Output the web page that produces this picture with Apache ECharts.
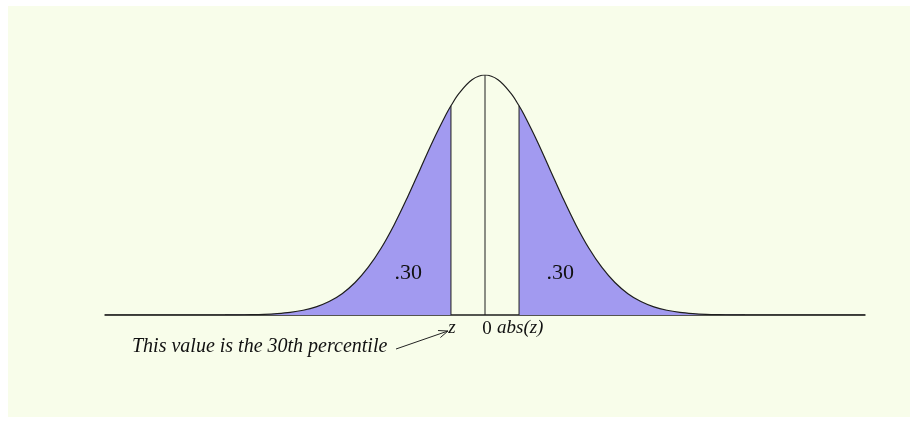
<!DOCTYPE html>
<html>
<head>
<meta charset="utf-8">
<script src="https://cdn.jsdelivr.net/npm/echarts@6/dist/echarts.min.js"></script>
<style>
  html, body { margin: 0; padding: 0; background: #ffffff; }
  #chart { width: 917px; height: 423px; }
</style>
</head>
<body>
<div id="chart"></div>
<script>
// Standard normal density, sampled along z
const zValues = [-5.85, -5.0, -4.4, -4.0, -3.8, -3.6, -3.4, -3.2, -3.0, -2.8, -2.6, -2.4, -2.2, -2.0,
  -1.8, -1.6, -1.4, -1.2, -1.0, -0.8, -0.6, -0.524, -0.4, -0.2, 0,
  0.2, 0.4, 0.524, 0.6, 0.8, 1.0, 1.2, 1.4, 1.6, 1.8, 2.0, 2.2, 2.4, 2.6, 2.8, 3.0, 3.2, 3.4,
  3.6, 3.8, 4.0, 4.4, 5.0, 5.85];
const density = [0, 0, 0, 0.0001, 0.0003, 0.0006, 0.0012, 0.0024, 0.0044, 0.0079, 0.0136, 0.0224, 0.0355, 0.0540,
  0.0790, 0.1109, 0.1497, 0.1942, 0.2420, 0.2897, 0.3332, 0.3477, 0.3683, 0.3910, 0.3989,
  0.3910, 0.3683, 0.3477, 0.3332, 0.2897, 0.2420, 0.1942, 0.1497, 0.1109, 0.0790, 0.0540, 0.0355, 0.0224, 0.0136, 0.0079, 0.0044, 0.0024, 0.0012,
  0.0006, 0.0003, 0.0001, 0, 0, 0];

// Cut points of the two shaded tails and their areas
const cutLow = -0.524;
const cutHigh = 0.524;
const tailAreas = ['.30', '.30'];
const axisLabels = ['z', '0', 'abs(z)'];
const note = 'This value is the 30th percentile';

const points = zValues.map((z, i) => [z, density[i]]);
const leftTail = points.filter(p => p[0] <= cutLow);
const rightTail = points.filter(p => p[0] >= cutHigh);
const densityAt = z => density[zValues.indexOf(z)];

const chart = echarts.init(document.getElementById('chart'), null, { renderer: 'canvas' });

const serif = '"Liberation Serif", "DejaVu Serif", serif';
const fillColor = '#a29af0';
const inkColor = '#1e1e1e';

function vline(x, top) {
  return {
    type: 'line', data: [[x, 0], [x, top]], symbol: 'none', silent: true,
    lineStyle: { color: inkColor, width: 1 }, z: 4
  };
}

chart.setOption({
  animation: false,
  backgroundColor: '#ffffff',
  grid: { left: 105, right: 52, top: 75, bottom: 108 },
  xAxis: {
    type: 'value', min: -5.85, max: 5.85,
    axisLine: { show: true, onZero: false, lineStyle: { color: inkColor, width: 1.5 } },
    axisTick: { show: false }, axisLabel: { show: false }, splitLine: { show: false }
  },
  yAxis: {
    type: 'value', min: 0, max: 0.3989,
    show: false, splitLine: { show: false }
  },
  series: [
    {
      type: 'line', data: leftTail, symbol: 'none', smooth: 0.35,
      lineStyle: { width: 0 }, areaStyle: { color: fillColor, opacity: 1 }, z: 2
    },
    {
      type: 'line', data: rightTail, symbol: 'none', smooth: 0.35,
      lineStyle: { width: 0 }, areaStyle: { color: fillColor, opacity: 1 }, z: 2
    },
    {
      type: 'line', data: points, symbol: 'none', smooth: 0.35,
      lineStyle: { color: inkColor, width: 1.2 }, z: 5
    },
    vline(cutLow, densityAt(cutLow)),
    vline(0, densityAt(0)),
    vline(cutHigh, densityAt(cutHigh))
  ]
});

// Text and arrow placed from the chart's own coordinate system
const px = (x, y) => chart.convertToPixel({ gridIndex: 0 }, [x, y]);
const pLow = px(cutLow, 0);
const pZero = px(0, 0);
const baseY = pLow[1];

const textStyle = (text, x, y, size, italic, align) => ({
  type: 'text', x, y, silent: true, z: 10,
  style: {
    text, fill: '#111', font: (italic ? 'italic ' : '') + size + 'px ' + serif,
    textAlign: align || 'center', textVerticalAlign: 'middle'
  }
});

const arrowTip = [pLow[0] - 3, baseY + 16];
const arrowTail = [396, baseY + 34];
const ang = Math.atan2(arrowTip[1] - arrowTail[1], arrowTip[0] - arrowTail[0]);
const head = 10, spread = 0.38;
const h1 = [arrowTip[0] - head * Math.cos(ang - spread), arrowTip[1] - head * Math.sin(ang - spread)];
const h2 = [arrowTip[0] - head * Math.cos(ang + spread), arrowTip[1] - head * Math.sin(ang + spread)];

chart.setOption({
  graphic: [
    { type: 'rect', shape: { x: 8, y: 6, width: 902, height: 411 }, style: { fill: '#f8fdea' }, z: -10, silent: true },
    textStyle(tailAreas[0], px(-1.18, 0)[0], px(0, 0.07)[1], 22, false),
    textStyle(tailAreas[1], px(1.16, 0)[0], px(0, 0.07)[1], 22, false),
    textStyle(axisLabels[0], pLow[0] + 1, baseY + 13, 19, true),
    textStyle(axisLabels[1], pZero[0] + 2, baseY + 14, 19, false),
    textStyle(axisLabels[2], pZero[0] + 12, baseY + 13, 19, true, 'left'),
    textStyle(note, 132, baseY + 32, 20, true, 'left'),
    {
      type: 'polyline', silent: true, z: 10,
      shape: { points: [arrowTail, arrowTip] },
      style: { stroke: '#222', lineWidth: 1, fill: null }
    },
    {
      type: 'polyline', silent: true, z: 10,
      shape: { points: [h1, arrowTip, h2] },
      style: { stroke: '#222', lineWidth: 1, fill: null }
    }
  ]
});
</script>
</body>
</html>
